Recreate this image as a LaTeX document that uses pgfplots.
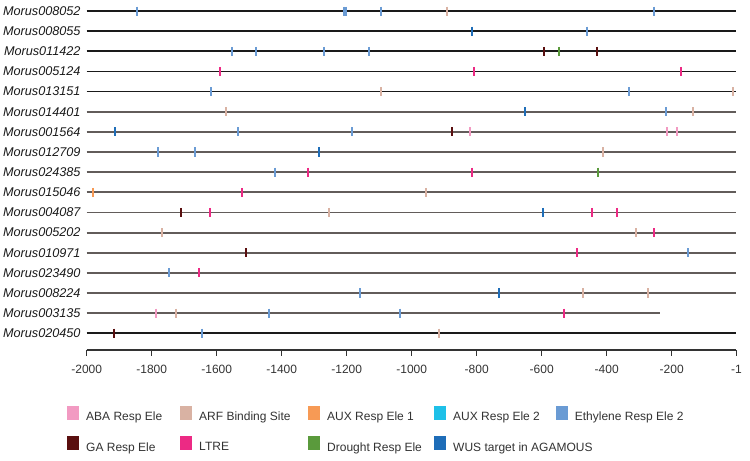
\documentclass[border=0pt]{standalone}
\usepackage{fontspec}
\setmainfont{Liberation Sans}
\usepackage{pgfplots}
\pgfplotsset{compat=1.18}
\definecolor{abacol}{HTML}{F29AC2}
\definecolor{arfcol}{HTML}{D9B2A3}
\definecolor{aux1col}{HTML}{F79A55}
\definecolor{aux2col}{HTML}{1EC0E8}
\definecolor{ethcol}{HTML}{6A9BD4}
\definecolor{gacol}{HTML}{5A0F0F}
\definecolor{ltrecol}{HTML}{EC2A84}
\definecolor{drocol}{HTML}{5A9A3C}
\definecolor{wuscol}{HTML}{1E6DB8}
\definecolor{rowblack}{HTML}{1A1A1A}
\definecolor{rowgray}{HTML}{625C5A}
\definecolor{txt}{HTML}{333333}
\pgfplotsset{
  mk/.style={only marks, mark=|, mark size=3.4pt, forget plot,
    mark options={line width=1.5pt, color=#1}},
  sq/.style={legend image code/.code={
    \path[draw=none,fill=none] (0pt,0pt) -- (14.25pt,0pt);
    \fill[#1,draw=none] (0pt,-2.05pt) rectangle (9pt,8.45pt);}}
}
\begin{document}
\begin{tikzpicture}
\begin{axis}[
  scale only axis, width=487.3pt, height=262.5pt,
  xmin=-2000, xmax=-1, ymin=0.17, ymax=17.55,
  clip=false,
  axis x line*=bottom, axis y line*=left,
  y axis line style={draw=none},
  x axis line style={-, line width=0.8pt, color=txt},
  xtick={-2000,-1800,-1600,-1400,-1200,-1000,-800,-600,-400,-200,-1},
  xticklabels={-2000,-1800,-1600,-1400,-1200,-1000,-800,-600,-400,-200,-1},
  xtick align=outside, ytick align=inside,
  xtick style={line width=0.8pt, color=txt},
  major tick length=4.5pt,
  xticklabel style={font=\fontsize{9}{10}\selectfont, color=txt, yshift=-3.5pt},
  ytick={1,...,17}, ytick style={draw=none},
  yticklabels={Morus020450,Morus003135,Morus008224,Morus023490,Morus010971,Morus005202,Morus004087,Morus015046,Morus024385,Morus012709,Morus001564,Morus014401,Morus013151,Morus005124,Morus011422,Morus008055,Morus008052},
  yticklabel style={font=\fontsize{9.5}{11}\selectfont\itshape, color=black!90, xshift=-1.1pt},
  unbounded coords=jump,
  legend columns=5,
  legend cell align=left,
  legend style={at={(axis description cs:0,0)}, anchor=north west,
    xshift=-14.8pt, yshift=-41.8pt, draw=none, inner sep=0pt,
    row sep=10.4pt, font=\fontsize{9}{10}\selectfont,
    nodes={inner sep=0pt, text=txt}},
]
% row lines
\addplot[rowblack, line width=1.3pt, forget plot] coordinates {
 (-2000,17) (-1,17) (nan,nan) (-2000,16) (-1,16) (nan,nan)
 (-2000,15) (-1,15) (nan,nan) (-2000,14) (-1,14) (nan,nan)
 (-2000,13) (-1,13) (nan,nan) (-2000,1) (-1,1)};
\addplot[rowgray, line width=1.4pt, forget plot] coordinates {
 (-2000,12) (-1,12) (nan,nan) (-2000,11) (-1,11) (nan,nan)
 (-2000,10) (-1,10) (nan,nan) (-2000,9) (-1,9) (nan,nan)
 (-2000,8) (-1,8) (nan,nan) (-2000,7) (-1,7) (nan,nan)
 (-2000,6) (-1,6) (nan,nan) (-2000,5) (-1,5) (nan,nan)
 (-2000,4) (-1,4) (nan,nan) (-2000,3) (-1,3) (nan,nan)
 (-2000,2) (-236,2)};
% ABA
\addplot[mk=abacol] coordinates {(-821,11) (-213,11) (-185,11) (-1788,2)};
% ARF
\addplot[mk=arfcol] coordinates {(-890,17) (-1094,13) (-10,13) (-1571,12) (-133,12)
 (-412,10) (-957,8) (-1254,7) (-1769,6) (-310,6) (-472,3) (-274,3) (-1726,2) (-916,1)};
% AUX1
\addplot[mk=aux1col] coordinates {(-1980,8)};
% Ethylene
\addplot[mk=ethcol] coordinates {(-1846,17) (-1208,17) (-1203,17) (-1094,17) (-253,17)
 (-461,16) (-1552,15) (-1479,15) (-1269,15) (-1130,15) (-1618,13) (-330,13) (-218,12)
 (-1533,11) (-1183,11) (-1782,10) (-1667,10) (-1421,9) (-149,5) (-1746,4) (-1159,3)
 (-1438,2) (-1036,2) (-1646,1)};
% GA
\addplot[mk=gacol] coordinates {(-592,15) (-431,15) (-877,11) (-1710,7) (-1510,5) (-1916,1)};
% LTRE
\addplot[mk=ltrecol] coordinates {(-1590,14) (-807,14) (-172,14) (-1319,9) (-815,9)
 (-1521,8) (-1621,7) (-446,7) (-367,7) (-253,6) (-490,5) (-1654,4) (-530,2)};
% Drought
\addplot[mk=drocol] coordinates {(-546,15) (-426,9)};
% WUS
\addplot[mk=wuscol] coordinates {(-813,16) (-651,12) (-1913,11) (-1284,10) (-595,7) (-730,3)};
% legend
\addlegendimage{sq=abacol}\addlegendentry{\makebox[70.5pt][l]{ABA Resp Ele}}
\addlegendimage{sq=arfcol}\addlegendentry{\makebox[81.75pt][l]{ARF Binding Site}}
\addlegendimage{sq=aux1col}\addlegendentry{\makebox[80.25pt][l]{AUX Resp Ele 1}}
\addlegendimage{sq=aux2col}\addlegendentry{\makebox[77pt][l]{AUX Resp Ele 2}}
\addlegendimage{sq=ethcol}\addlegendentry{Ethylene Resp Ele 2}
\addlegendimage{sq=gacol}\addlegendentry{\makebox[70.5pt][l]{GA Resp Ele}}
\addlegendimage{sq=ltrecol}\addlegendentry{\makebox[81.75pt][l]{LTRE}}
\addlegendimage{sq=drocol}\addlegendentry{\makebox[80.25pt][l]{Drought Resp Ele}}
\addlegendimage{sq=wuscol}\addlegendentry{\makebox[77pt][l]{WUS target in AGAMOUS}}
\coordinate (bl) at (axis cs:-2266.8,-5.34);
\coordinate (tr) at (axis cs:40.9,17.55);
\end{axis}
\pgfresetboundingbox
\path (bl) rectangle (tr);
\end{tikzpicture}
\end{document}
